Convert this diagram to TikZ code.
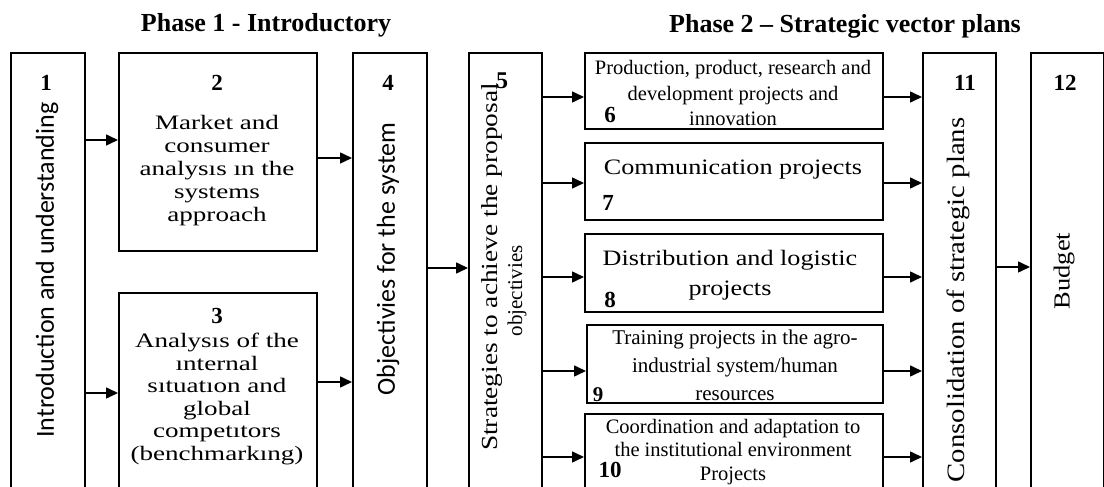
\documentclass[tikz,border=0pt]{standalone}
\usepackage{fontspec}
\setmainfont{Liberation Serif}
\newfontfamily\wideA[FakeStretch=1.32]{Liberation Serif}
\newfontfamily\wideB[FakeStretch=1.19]{Liberation Serif}
\newfontfamily\wideC[FakeStretch=1.15]{Liberation Serif}
\newfontfamily\calib{Carlito}
\usetikzlibrary{arrows.meta}

\tikzset{
  box/.style={draw, line width=1.8bp, inner sep=0pt, anchor=north west},
  arr/.style={-{Triangle[length=12bp,width=11bp]}, line width=1.5bp},
  num/.style={font=\bfseries\fontsize{23bp}{25bp}\selectfont, inner sep=0pt},
  title/.style={font=\bfseries\fontsize{26bp}{28bp}\selectfont, anchor=base, inner sep=0pt},
  vsans/.style={rotate=90, inner sep=0pt, font=\calib\fontsize{26bp}{30bp}\selectfont},
  txt/.style={align=center, inner sep=0pt},
}

\begin{document}
\begin{tikzpicture}[x=1bp, y=-1bp]
\clip (0,0) rectangle (1104,487);
\fill[white] (0,0) rectangle (1104,487);

% phase titles
\node[title] (ph1) at (266,32) {Phase 1 - Introductory};
\node[title] (ph2) at (845,33) {Phase 2 – Strategic vector plans};

% boxes
\node[box, minimum width=74bp,  minimum height=460bp] (b1)  at (10,52)   {};
\node[box, minimum width=198bp, minimum height=198bp] (b2)  at (118,52)  {};
\node[box, minimum width=198bp, minimum height=220bp] (b3)  at (118,292) {};
\node[box, minimum width=74bp,  minimum height=460bp] (b4)  at (352,52)  {};
\node[box, minimum width=73bp,  minimum height=460bp] (b5)  at (468,52)  {};
\node[box, minimum width=298bp, minimum height=76bp]  (b6)  at (584,52)  {};
\node[box, minimum width=298bp, minimum height=77bp]  (b7)  at (584,142) {};
\node[box, minimum width=298bp, minimum height=78bp]  (b8)  at (584,233) {};
\node[box, minimum width=296bp, minimum height=78bp]  (b9)  at (586,324) {};
\node[box, minimum width=298bp, minimum height=100bp] (b10) at (584,413) {};
\node[box, minimum width=73bp,  minimum height=460bp] (b11) at (922,52)  {};
\node[box, minimum width=73bp,  minimum height=460bp] (b12) at (1030,52) {};

% box texts
\node[vsans] (t1) at (47,270) {Introduction and understanding};
\node[num] (n1) at (46,83) {1};

\node[num] (n2) at (217,83) {2};
\node[txt, font=\wideA\fontsize{20.5bp}{23bp}\selectfont] (t2) at (217,171)
  {Market and\\consumer\\analysıs ın the\\systems\\approach};

\node[num] (n3) at (217,316) {3};
\node[txt, font=\wideA\fontsize{20.5bp}{22.5bp}\selectfont] (t3) at (217,399)
  {Analysıs of the\\ınternal\\sıtuatıon and\\global\\competıtors\\(benchmarkıng)};

\node[num] (n4) at (388,83) {4};
\node[vsans] (t4) at (388,259) {Objectivies for the system};

\node[rotate=90, inner sep=0pt, font=\wideB\fontsize{23bp}{25bp}\selectfont] (t5a) at (492,267)
  {Strategies to achieve the proposal};
\node[rotate=90, inner sep=0pt, font=\fontsize{21bp}{23bp}\selectfont] (t5b) at (517,291)
  {objectivies};
\node[num, font=\bfseries\fontsize{24bp}{26bp}\selectfont] (n5) at (502,81) {5};

\node[txt, font=\fontsize{20.5bp}{25.5bp}\selectfont] (t6) at (733,93)
  {Production, product, research and\\development projects and\\innovation};
\node[num] (n6) at (610,115) {6};

\node[txt, font=\wideB\fontsize{22bp}{25bp}\selectfont] (t7) at (733,170)
  {Communication projects};
\node[num] (n7) at (608,203) {7};

\node[txt, font=\wideB\fontsize{22bp}{30bp}\selectfont] (t8) at (730,275)
  {Distribution and logistic\\projects};
\node[num] (n8) at (610,300) {8};

\node[txt, font=\fontsize{21bp}{28bp}\selectfont] (t9) at (735,365)
  {Training projects in the agro-\\industrial system/human\\resources};
\node[num, font=\bfseries\fontsize{21bp}{23bp}\selectfont] (n9) at (598,395) {9};

\node[txt, font=\fontsize{20.5bp}{23.5bp}\selectfont] (t10) at (733,452)
  {Coordination and adaptation to\\the institutional environment\\Projects};
\node[num] (n10) at (610,470) {10};

\node[num] (n11) at (965,83) {11};
\node[rotate=90, inner sep=0pt, font=\wideC\fontsize{25bp}{27bp}\selectfont] (t11) at (958,300)
  {Consolidation of strategic plans};

\node[num] (n12) at (1065,83) {12};
\node[rotate=90, inner sep=0pt, font=\wideC\fontsize{23bp}{25bp}\selectfont] (t12) at (1064,271)
  {Budget};

% arrow rows
\coordinate (r12) at (0,140);
\coordinate (r13) at (0,393);
\coordinate (r24) at (0,158);
\coordinate (r34) at (0,382);
\coordinate (r45) at (0,268);
\coordinate (ra) at (0,97);
\coordinate (rb) at (0,183);
\coordinate (rc) at (0,277);
\coordinate (rd) at (0,371);
\coordinate (re) at (0,457);
\coordinate (rf) at (0,267);

% connectors
\draw[arr] (b1.east |- r12) -- (b2.west |- r12);
\draw[arr] (b1.east |- r13) -- (b3.west |- r13);
\draw[arr] (b2.east |- r24) -- (b4.west |- r24);
\draw[arr] (b3.east |- r34) -- (b4.west |- r34);
\draw[arr] (b4.east |- r45) -- (b5.west |- r45);
\draw[arr] (b5.east |- ra) -- (b6.west |- ra);
\draw[arr] (b5.east |- rb) -- (b7.west |- rb);
\draw[arr] (b5.east |- rc) -- (b8.west |- rc);
\draw[arr] (b5.east |- rd) -- (b9.west |- rd);
\draw[arr] (b5.east |- re) -- (b10.west |- re);
\draw[arr] (b6.east |- ra) -- (b11.west |- ra);
\draw[arr] (b7.east |- rb) -- (b11.west |- rb);
\draw[arr] (b8.east |- rc) -- (b11.west |- rc);
\draw[arr] (b9.east |- rd) -- (b11.west |- rd);
\draw[arr] (b10.east |- re) -- (b11.west |- re);
\draw[arr] (b11.east |- rf) -- (b12.west |- rf);
\end{tikzpicture}
\end{document}
